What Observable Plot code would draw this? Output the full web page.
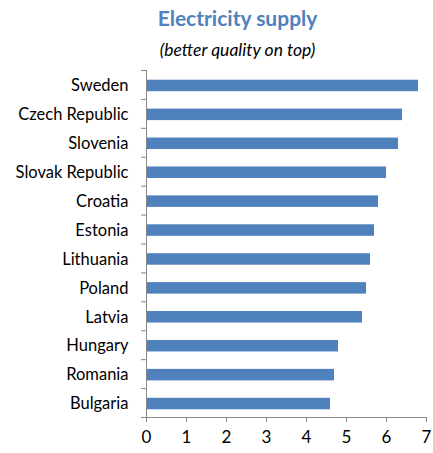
<!DOCTYPE html>
<html><head><meta charset="utf-8">
<script src="https://cdn.jsdelivr.net/npm/d3@7"></script>
<script src="https://cdn.jsdelivr.net/npm/@observablehq/plot@0.6"></script>
<style>
body{margin:0;background:#fff;font-family:Lato,sans-serif;}
#wrap{position:relative;width:433px;height:453px;overflow:hidden;}
#title{position:absolute;left:42px;width:391px;top:7px;text-align:center;font-weight:bold;font-size:21px;line-height:21px;color:#4F81BD;white-space:nowrap;}
#subtitle{position:absolute;left:42px;width:391px;top:41px;text-align:center;font-style:italic;font-size:17.5px;line-height:17.5px;color:#000;white-space:nowrap;}
#chart{position:absolute;left:0;top:60px;width:433px;height:393px;}
#chart svg{max-width:none !important;}
</style></head>
<body>
<div id="wrap">
<div id="title">Electricity supply</div>
<div id="subtitle">(better quality on top)</div>
<div id="chart"></div>
</div>
<script>
const countries = ["Sweden","Czech Republic","Slovenia","Slovak Republic","Croatia","Estonia","Lithuania","Poland","Latvia","Hungary","Romania","Bulgaria"];
const values = [6.8,6.4,6.3,6.0,5.8,5.7,5.6,5.5,5.4,4.8,4.7,4.6];
const xTicks = [0,1,2,3,4,5,6,7];

const data = countries.map((c,i)=>({country:c, value:values[i]}));
const axisColor = "#888";
const step = (393-10-36)/countries.length;
const inset = (step-11.5)/2;

const chart = Plot.plot({
  width:433, height:393,
  marginTop:10, marginBottom:36, marginLeft:146, marginRight:7,
  style:{fontFamily:"Lato, sans-serif", fontSize:"16.5px", color:"#000", background:"#fff"},
  x:{domain:[0,7], label:null},
  y:{domain:countries, padding:0, round:false, label:null},
  marks:[
    Plot.barX(data,{x:"value", y:"country", fill:"#4F81BD", insetTop:inset, insetBottom:inset, dy:1}),
    Plot.axisY({tickSize:0, tickPadding:18, stroke:"none", fill:"#000", fontSize:16.5, label:null, dy:1}),
    Plot.axisY({tickSize:5, fill:"none", stroke:axisColor, label:null, dy:-step/2}),
    Plot.axisY(["Bulgaria"],{tickSize:5, fill:"none", stroke:axisColor, label:null, dy:step/2}),
    Plot.ruleX([0],{stroke:axisColor}),
    Plot.frame({anchor:"bottom", stroke:axisColor}),
    Plot.axisX({ticks:xTicks, tickFormat:"d", tickSize:5, tickPadding:8, stroke:axisColor, fill:"#000", fontSize:17, label:null})
  ]
});
document.getElementById("chart").appendChild(chart);
</script>
</body></html>
